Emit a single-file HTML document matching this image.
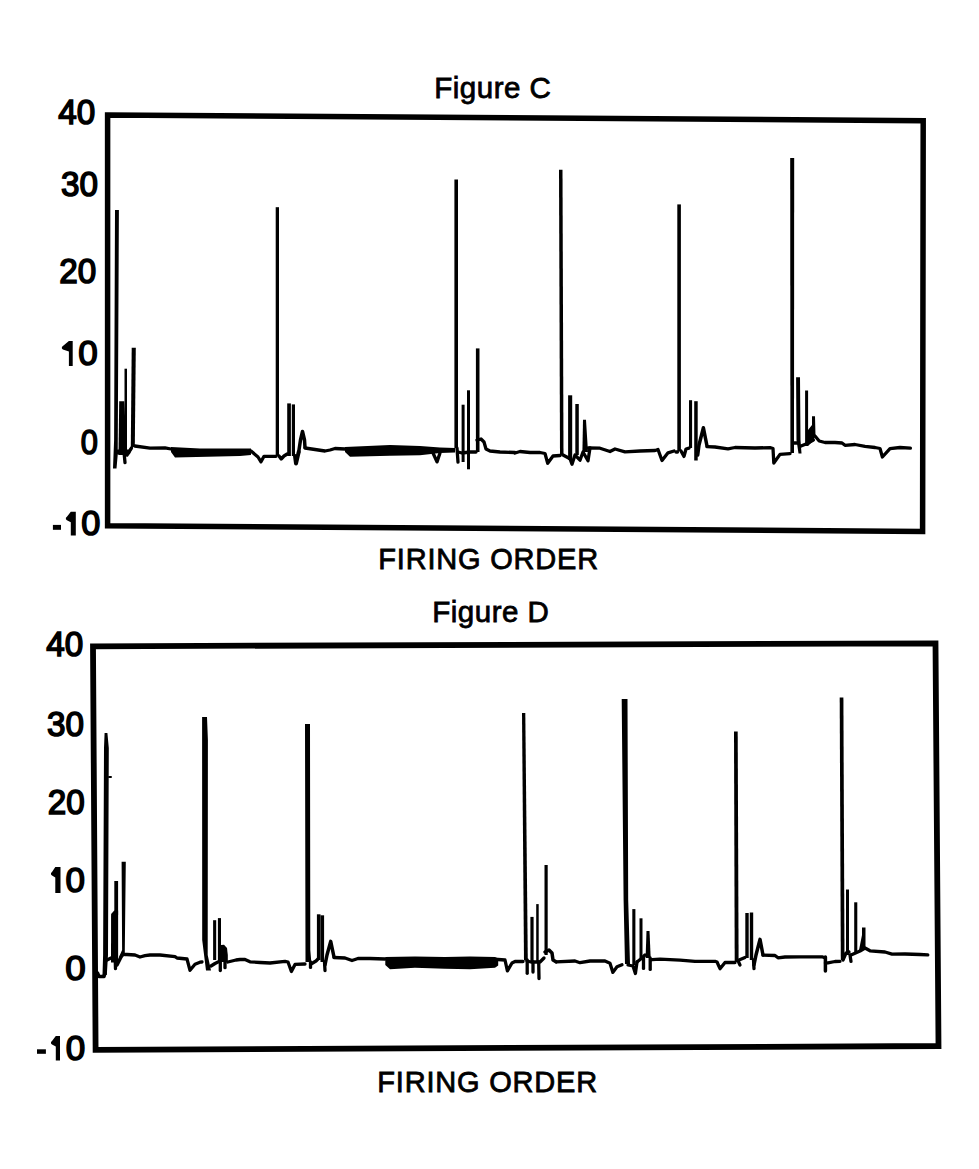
<!DOCTYPE html>
<html><head><meta charset="utf-8"><style>html,body{margin:0;padding:0;background:#fff;overflow:hidden}svg{display:block}</style></head>
<body><svg width="979" height="1169" viewBox="0 0 979 1169">
<rect width="979" height="1169" fill="#fff"/>
<path d="M107.6,115.1 L923.2,120.7 L922.6,531.4 L107.6,525.7 Z" fill="none" stroke="#000" stroke-width="5.5" stroke-linejoin="miter"/>
<path d="M93,646.3 L935.5,643.3 L938.5,1046 L95.6,1049.8 Z" fill="none" stroke="#000" stroke-width="5.8" stroke-linejoin="miter"/>
<text transform="translate(58.3,123.5) scale(0.95,1)" font-family="'Liberation Sans', sans-serif" font-size="35" stroke="#000" stroke-width="1.6">40</text>
<text transform="translate(61.0,195.7) scale(0.95,1)" font-family="'Liberation Sans', sans-serif" font-size="35" stroke="#000" stroke-width="1.6">30</text>
<text transform="translate(59.3,282.7) scale(0.95,1)" font-family="'Liberation Sans', sans-serif" font-size="35" stroke="#000" stroke-width="1.6">20</text>
<text transform="translate(80.7,453.5) scale(0.88,1)" font-family="'Liberation Sans', sans-serif" font-size="35" stroke="#000" stroke-width="1.6">0</text>
<text transform="translate(46.3,655.7) scale(0.95,1)" font-family="'Liberation Sans', sans-serif" font-size="35" stroke="#000" stroke-width="1.6">40</text>
<text transform="translate(47.1,735.7) scale(0.95,1)" font-family="'Liberation Sans', sans-serif" font-size="35" stroke="#000" stroke-width="1.6">30</text>
<text transform="translate(47.7,814.1) scale(0.95,1)" font-family="'Liberation Sans', sans-serif" font-size="35" stroke="#000" stroke-width="1.6">20</text>
<text transform="translate(65.2,980.0) scale(1.05,1)" font-family="'Liberation Sans', sans-serif" font-size="35" stroke="#000" stroke-width="1.6">0</text>
<polygon points="68.9,340.9 72.7,340.9 72.7,366.0 68.9,366.0 68.9,351.4 62.9,349.4 61.9,348.4 61.9,346.9 62.9,345.9" fill="#000"/>
<text transform="translate(78.3,365.0) scale(1.0,1)" font-family="'Liberation Sans', sans-serif" font-size="35" stroke="#000" stroke-width="1.6">0</text>
<rect x="52.9" y="524.9" width="8.1" height="4.9" fill="#000"/>
<polygon points="70.8,511.8 75.8,511.8 75.8,535.5 70.8,535.5 70.8,522.3 66.9,520.3 65.9,519.3 65.9,517.8 66.9,516.8" fill="#000"/>
<text transform="translate(81.2,534.5) scale(0.98,1)" font-family="'Liberation Sans', sans-serif" font-size="35" stroke="#000" stroke-width="1.6">0</text>
<polygon points="55.3,866.9 60.5,866.9 60.5,892.9 55.3,892.9 55.3,877.4 52.0,875.4 51.0,874.4 51.0,872.9 52.0,871.9" fill="#000"/>
<text transform="translate(65.4,891.9) scale(1.0,1)" font-family="'Liberation Sans', sans-serif" font-size="35" stroke="#000" stroke-width="1.6">0</text>
<rect x="37" y="1049.3" width="8.9" height="4.5" fill="#000"/>
<polygon points="55.8,1036.0 60.0,1036.0 60.0,1060.6 55.8,1060.6 55.8,1046.5 52.0,1044.5 51.0,1043.5 51.0,1042.0 52.0,1041.0" fill="#000"/>
<text transform="translate(65.7,1059.6) scale(1.0,1)" font-family="'Liberation Sans', sans-serif" font-size="35" stroke="#000" stroke-width="1.6">0</text>
<text x="434.3" y="97.5" font-family="'Liberation Sans', sans-serif" font-size="29.5" letter-spacing="0.5" stroke="#000" stroke-width="0.8">Figure C</text>
<text x="432.3" y="622.2" font-family="'Liberation Sans', sans-serif" font-size="29.5" letter-spacing="0.5" stroke="#000" stroke-width="0.8">Figure D</text>
<text x="378.3" y="569.4" font-family="'Liberation Sans', sans-serif" font-size="29" letter-spacing="0.8" stroke="#000" stroke-width="0.8">FIRING ORDER</text>
<text x="377.3" y="1092.2" font-family="'Liberation Sans', sans-serif" font-size="29" letter-spacing="0.8" stroke="#000" stroke-width="0.8">FIRING ORDER</text>
<polygon points="115.0,210.0 118.9,210.0 117.7,455.0 116.5,468.5 113.0,468.5 114.1,440.0" fill="#000"/>
<polygon points="119.2,401.3 124.3,401.3 126.8,455.0 118.5,455.0" fill="#000"/>
<polygon points="124.5,368.7 127.0,368.7 127.0,450.0 124.5,450.0" fill="#000"/>
<polyline points="118.0,452.0 128.0,452.0" fill="none" stroke="#000" stroke-width="5" stroke-linejoin="round" stroke-linecap="round"/>
<polyline points="124.0,452.0 125.0,462.7" fill="none" stroke="#000" stroke-width="3.3" stroke-linejoin="round" stroke-linecap="round"/>
<polyline points="127.0,455.0 131.5,448.0" fill="none" stroke="#000" stroke-width="3.3" stroke-linejoin="round" stroke-linecap="round"/>
<polygon points="131.7,347.8 135.8,347.8 134.8,447.0 130.8,447.0" fill="#000"/>
<polyline points="134.8,446.0 150.0,448.2 165.0,447.8 171.0,449.0" fill="none" stroke="#000" stroke-width="3.3" stroke-linejoin="round" stroke-linecap="round"/>
<polygon points="171.0,447.0 200.0,448.5 251.0,448.5 251.0,455.0 240.0,456.0 175.0,457.5 171.0,452.0" fill="#000"/>
<polyline points="251.0,451.0 258.0,457.0 261.0,461.8 264.0,456.3 276.0,456.3" fill="none" stroke="#000" stroke-width="3.3" stroke-linejoin="round" stroke-linecap="round"/>
<polygon points="275.7,207.2 279.0,207.2 279.0,456.0 275.7,456.0" fill="#000"/>
<polyline points="279.0,456.0 281.2,459.0 284.0,456.0 287.2,454.0" fill="none" stroke="#000" stroke-width="3.3" stroke-linejoin="round" stroke-linecap="round"/>
<polygon points="287.2,403.4 290.9,403.4 290.9,456.0 287.2,456.0" fill="#000"/>
<polygon points="291.8,404.4 295.0,404.4 295.0,456.0 291.8,456.0" fill="#000"/>
<polyline points="295.0,456.0 296.0,463.6 298.7,452.0" fill="none" stroke="#000" stroke-width="4" stroke-linejoin="round" stroke-linecap="round"/>
<polyline points="298.7,452.0 300.5,440.0 302.5,431.5 304.5,440.0 305.0,447.5" fill="none" stroke="#000" stroke-width="3.5" stroke-linejoin="round" stroke-linecap="round"/>
<polyline points="305.0,448.0 315.0,449.5 325.0,451.0 330.0,450.0 335.0,448.5 345.0,449.0" fill="none" stroke="#000" stroke-width="3.3" stroke-linejoin="round" stroke-linecap="round"/>
<polygon points="345.0,447.0 390.0,445.0 420.0,446.0 440.0,447.5 455.0,448.0 455.0,452.5 440.0,453.0 420.0,455.2 390.0,455.8 350.0,456.7 345.0,452.0" fill="#000"/>
<polyline points="433.0,453.0 437.0,461.9 440.0,453.0" fill="none" stroke="#000" stroke-width="3.3" stroke-linejoin="round" stroke-linecap="round"/>
<polygon points="454.4,179.4 458.0,179.4 458.0,448.0 454.4,448.0" fill="#000"/>
<polyline points="457.0,448.0 458.0,462.2" fill="none" stroke="#000" stroke-width="3.3" stroke-linejoin="round" stroke-linecap="round"/>
<polygon points="461.6,404.7 464.6,404.7 464.6,462.0 461.6,462.0" fill="#000"/>
<polygon points="467.0,390.3 470.0,390.3 470.0,469.3 467.0,469.3" fill="#000"/>
<polygon points="475.9,348.4 479.5,348.4 479.5,452.0 475.9,452.0" fill="#000"/>
<polyline points="458.0,452.0 462.0,453.0 470.0,452.0 476.0,452.0" fill="none" stroke="#000" stroke-width="3.3" stroke-linejoin="round" stroke-linecap="round"/>
<polyline points="477.0,440.0 481.0,439.0 484.0,442.0 486.0,449.0 490.0,451.0 500.0,452.0 515.0,452.5" fill="none" stroke="#000" stroke-width="3.3" stroke-linejoin="round" stroke-linecap="round"/>
<polyline points="515.0,453.0 520.0,451.5 530.0,452.5 540.0,452.5 545.0,453.5 547.7,463.2 553.0,456.0 560.0,455.5" fill="none" stroke="#000" stroke-width="3.3" stroke-linejoin="round" stroke-linecap="round"/>
<polygon points="559.0,169.8 562.5,169.8 563.5,455.6 560.0,455.6" fill="#000"/>
<polyline points="563.0,455.0 570.0,458.7 572.0,464.3 575.0,455.0 580.0,460.2 583.0,452.0 588.0,460.7 590.0,448.0" fill="none" stroke="#000" stroke-width="3.3" stroke-linejoin="round" stroke-linecap="round"/>
<polygon points="568.1,395.3 572.2,395.3 572.2,460.0 568.1,460.0" fill="#000"/>
<polygon points="575.3,404.0 578.8,404.0 578.8,455.0 575.3,455.0" fill="#000"/>
<polygon points="583.0,419.8 586.0,419.8 588.0,452.0 582.4,452.0" fill="#000"/>
<polyline points="588.0,448.0 600.0,448.2 610.0,451.5 615.0,449.0 625.0,451.8 640.0,451.0 655.0,450.5 658.0,449.5 662.0,460.5 668.0,452.8 674.0,451.0" fill="none" stroke="#000" stroke-width="3.3" stroke-linejoin="round" stroke-linecap="round"/>
<polyline points="676.0,452.0 677.5,452.0" fill="none" stroke="#000" stroke-width="3.3" stroke-linejoin="round" stroke-linecap="round"/>
<polygon points="677.3,204.4 680.9,204.4 680.9,451.3 677.3,451.3" fill="#000"/>
<polyline points="681.0,451.0 684.0,456.4 686.0,449.0 689.0,448.2" fill="none" stroke="#000" stroke-width="3.3" stroke-linejoin="round" stroke-linecap="round"/>
<polygon points="689.0,400.2 692.1,400.2 692.1,448.0 689.0,448.0" fill="#000"/>
<polygon points="694.2,401.2 697.7,401.2 697.7,460.5 694.2,460.5" fill="#000"/>
<polyline points="697.7,455.0 699.0,445.0 703.4,427.8 707.0,446.0" fill="none" stroke="#000" stroke-width="3.5" stroke-linejoin="round" stroke-linecap="round"/>
<polyline points="707.0,446.7 715.0,447.0 728.0,448.8 735.0,447.5 755.0,448.0 770.0,447.6 773.0,448.5 773.8,463.0 780.0,454.4 790.0,453.7" fill="none" stroke="#000" stroke-width="3.3" stroke-linejoin="round" stroke-linecap="round"/>
<polygon points="790.2,158.0 794.2,158.0 794.0,453.0 790.4,453.0" fill="#000"/>
<polyline points="793.6,443.0 797.8,443.0" fill="none" stroke="#000" stroke-width="3.3" stroke-linejoin="round" stroke-linecap="round"/>
<polygon points="796.1,377.3 800.0,377.3 800.5,440.0 801.5,453.5 798.5,453.5 796.5,440.0" fill="#000"/>
<polyline points="801.0,446.0 806.0,444.0 813.3,440.0" fill="none" stroke="#000" stroke-width="3.5" stroke-linejoin="round" stroke-linecap="round"/>
<polygon points="805.1,390.5 808.1,390.5 808.1,446.0 805.1,446.0" fill="#000"/>
<polygon points="808.0,430.0 812.0,425.0 812.0,416.2 815.0,416.2 815.5,436.0 813.0,441.0 808.0,446.0" fill="#000"/>
<polyline points="815.0,436.0 819.2,441.0 825.0,442.5 835.0,442.5 842.0,443.0 845.0,445.3 855.0,444.5 865.0,446.4 875.0,447.5 880.0,448.5 882.4,457.0 890.0,448.7 900.0,447.5 910.4,448.1" fill="none" stroke="#000" stroke-width="3.3" stroke-linejoin="round" stroke-linecap="round"/>
<polyline points="97.5,973.0 99.0,976.5 104.0,976.5 105.0,973.0" fill="none" stroke="#000" stroke-width="3.5" stroke-linejoin="round" stroke-linecap="round"/>
<polygon points="104.6,733.0 107.4,733.0 108.8,748.0 108.0,955.0 106.8,975.0 102.5,975.0 103.1,955.0 104.0,748.0" fill="#000"/>
<polyline points="109.0,777.0 111.0,777.0" fill="none" stroke="#000" stroke-width="2" stroke-linejoin="round" stroke-linecap="round"/>
<polyline points="107.0,960.0 111.0,958.0" fill="none" stroke="#000" stroke-width="3.3" stroke-linejoin="round" stroke-linecap="round"/>
<polygon points="111.1,914.0 114.3,910.5 118.1,910.5 118.1,962.5 111.0,962.5" fill="#000"/>
<polygon points="114.3,881.0 118.1,881.0 118.1,915.0 114.3,915.0" fill="#000"/>
<polyline points="115.3,962.0 115.5,968.6" fill="none" stroke="#000" stroke-width="3.3" stroke-linejoin="round" stroke-linecap="round"/>
<polyline points="117.0,965.0 121.0,957.0 123.0,954.0" fill="none" stroke="#000" stroke-width="3.5" stroke-linejoin="round" stroke-linecap="round"/>
<polygon points="121.6,861.8 125.8,861.8 124.8,950.0 124.8,956.0 119.0,957.0 122.1,950.0" fill="#000"/>
<polyline points="124.8,954.5 127.0,954.5 135.0,955.0 140.0,957.0 145.0,955.7 150.0,955.0 160.0,955.0 175.0,956.6 177.0,958.0 187.0,959.0 190.0,970.3 195.0,964.2 200.0,962.2 202.0,962.0" fill="none" stroke="#000" stroke-width="3.3" stroke-linejoin="round" stroke-linecap="round"/>
<polygon points="202.1,717.0 207.0,717.0 207.9,740.0 207.7,955.0 211.0,970.5 206.0,970.5 202.2,940.0" fill="#000"/>
<polyline points="211.0,966.0 215.0,963.5 218.0,962.0" fill="none" stroke="#000" stroke-width="3.3" stroke-linejoin="round" stroke-linecap="round"/>
<polygon points="213.1,920.2 216.2,920.2 216.2,960.0 213.1,960.0" fill="#000"/>
<polygon points="217.9,918.1 221.0,918.1 221.0,962.0 217.9,962.0" fill="#000"/>
<polyline points="220.3,960.0 220.3,970.5" fill="none" stroke="#000" stroke-width="3.3" stroke-linejoin="round" stroke-linecap="round"/>
<polygon points="218.3,962.0 218.5,950.0 221.0,945.0 224.0,944.8 227.0,948.0 227.8,955.0 227.8,962.0" fill="#000"/>
<polyline points="225.0,962.0 225.0,967.7" fill="none" stroke="#000" stroke-width="3.3" stroke-linejoin="round" stroke-linecap="round"/>
<polyline points="227.8,962.0 232.0,961.0 236.0,960.0 240.0,959.5 245.0,959.5 250.0,961.8 260.0,962.5 270.0,963.0 285.0,961.3 288.0,962.0 291.4,971.5 295.0,964.4 305.0,964.0" fill="none" stroke="#000" stroke-width="3.3" stroke-linejoin="round" stroke-linecap="round"/>
<polygon points="305.0,723.9 310.0,723.9 310.3,950.0 311.3,962.0 305.5,962.0" fill="#000"/>
<polyline points="310.5,962.0 310.5,967.4" fill="none" stroke="#000" stroke-width="3.3" stroke-linejoin="round" stroke-linecap="round"/>
<polyline points="311.0,964.0 316.0,961.0 318.0,959.0" fill="none" stroke="#000" stroke-width="3.3" stroke-linejoin="round" stroke-linecap="round"/>
<polygon points="316.9,914.3 320.5,914.3 320.5,960.0 316.9,960.0" fill="#000"/>
<polygon points="320.5,915.3 324.1,915.3 324.1,962.0 320.5,962.0" fill="#000"/>
<polyline points="324.5,962.0 325.0,970.5" fill="none" stroke="#000" stroke-width="3.3" stroke-linejoin="round" stroke-linecap="round"/>
<polyline points="325.0,965.0 327.0,955.0 330.7,941.4 334.0,957.0" fill="none" stroke="#000" stroke-width="3.5" stroke-linejoin="round" stroke-linecap="round"/>
<polyline points="334.0,957.5 345.0,958.0 352.0,960.5 358.0,958.5 370.0,958.5 385.0,959.0" fill="none" stroke="#000" stroke-width="3.3" stroke-linejoin="round" stroke-linecap="round"/>
<polygon points="385.3,957.0 415.0,956.5 445.0,957.0 470.0,956.5 495.0,957.0 498.2,958.0 498.2,965.6 495.0,967.7 470.0,969.2 445.0,968.7 415.0,967.7 390.0,969.2 385.3,965.0" fill="#000"/>
<polyline points="498.0,959.5 505.0,960.0 507.4,970.8 512.0,963.0 515.0,961.5 523.0,961.5" fill="none" stroke="#000" stroke-width="3.3" stroke-linejoin="round" stroke-linecap="round"/>
<polygon points="522.0,712.9 525.3,712.9 527.8,960.5 524.0,960.5" fill="#000"/>
<polyline points="527.2,960.0 527.2,973.3" fill="none" stroke="#000" stroke-width="3.3" stroke-linejoin="round" stroke-linecap="round"/>
<polygon points="530.4,916.9 533.6,916.9 533.6,962.0 530.4,962.0" fill="#000"/>
<polyline points="533.0,962.0 533.0,972.0" fill="none" stroke="#000" stroke-width="3.3" stroke-linejoin="round" stroke-linecap="round"/>
<polygon points="536.2,904.1 538.7,904.1 538.7,962.0 536.2,962.0" fill="#000"/>
<polyline points="538.7,962.0 539.0,978.5" fill="none" stroke="#000" stroke-width="3.3" stroke-linejoin="round" stroke-linecap="round"/>
<polygon points="544.5,865.0 547.7,865.0 547.7,955.0 544.5,955.0" fill="#000"/>
<polyline points="527.0,961.0 531.0,962.0 536.0,962.0 540.0,962.0 544.0,958.0" fill="none" stroke="#000" stroke-width="3.3" stroke-linejoin="round" stroke-linecap="round"/>
<polyline points="545.0,952.0 549.0,950.0 552.0,953.0 553.0,960.0 556.0,961.8" fill="none" stroke="#000" stroke-width="3.5" stroke-linejoin="round" stroke-linecap="round"/>
<polyline points="556.0,961.8 575.0,961.0 580.0,962.7 590.0,961.0 605.0,961.0 610.0,963.2 612.9,972.4 617.0,966.8 622.0,964.8" fill="none" stroke="#000" stroke-width="3.3" stroke-linejoin="round" stroke-linecap="round"/>
<polygon points="621.7,699.0 627.5,699.0 628.2,900.0 630.0,964.0 625.0,964.0 623.6,900.0" fill="#000"/>
<polyline points="628.0,965.0 633.0,966.0 635.4,973.5 637.0,962.0" fill="none" stroke="#000" stroke-width="3.3" stroke-linejoin="round" stroke-linecap="round"/>
<polygon points="632.3,909.1 635.4,909.1 635.4,965.0 632.3,965.0" fill="#000"/>
<polygon points="639.5,918.3 642.5,918.3 642.5,958.0 639.5,958.0" fill="#000"/>
<polygon points="646.5,931.1 649.5,931.1 650.7,958.0 645.6,958.0" fill="#000"/>
<polyline points="637.0,962.0 642.0,958.0 645.0,955.0" fill="none" stroke="#000" stroke-width="3.3" stroke-linejoin="round" stroke-linecap="round"/>
<polyline points="643.5,958.0 643.5,968.4" fill="none" stroke="#000" stroke-width="3.3" stroke-linejoin="round" stroke-linecap="round"/>
<polyline points="650.2,958.0 650.2,969.4" fill="none" stroke="#000" stroke-width="3.3" stroke-linejoin="round" stroke-linecap="round"/>
<polyline points="650.7,960.0 652.0,959.7 660.0,959.2 680.0,960.2 695.0,961.3 715.0,961.3 717.0,962.0 720.0,968.7 725.0,962.5 735.0,962.5" fill="none" stroke="#000" stroke-width="3.3" stroke-linejoin="round" stroke-linecap="round"/>
<polygon points="734.0,731.4 737.7,731.4 738.6,962.0 734.7,962.0" fill="#000"/>
<polyline points="738.6,962.0 740.0,965.0" fill="none" stroke="#000" stroke-width="3.3" stroke-linejoin="round" stroke-linecap="round"/>
<polyline points="739.0,960.0 745.0,957.5" fill="none" stroke="#000" stroke-width="3.3" stroke-linejoin="round" stroke-linecap="round"/>
<polygon points="745.3,913.0 748.7,913.0 748.7,958.0 745.3,958.0" fill="#000"/>
<polygon points="749.8,912.5 753.2,912.5 753.2,960.0 749.8,960.0" fill="#000"/>
<polyline points="753.5,960.0 754.0,968.7" fill="none" stroke="#000" stroke-width="3.3" stroke-linejoin="round" stroke-linecap="round"/>
<polyline points="754.0,965.0 756.0,955.0 760.0,939.4 763.0,955.0" fill="none" stroke="#000" stroke-width="3.5" stroke-linejoin="round" stroke-linecap="round"/>
<polyline points="763.0,955.2 775.0,955.5 778.0,957.8 785.0,957.0 800.0,956.8 822.0,956.8 825.4,958.0" fill="none" stroke="#000" stroke-width="3.3" stroke-linejoin="round" stroke-linecap="round"/>
<polyline points="825.4,957.0 825.4,971.1" fill="none" stroke="#000" stroke-width="3.5" stroke-linejoin="round" stroke-linecap="round"/>
<polyline points="825.4,963.0 828.0,962.9 835.0,961.5 840.0,961.4" fill="none" stroke="#000" stroke-width="3.3" stroke-linejoin="round" stroke-linecap="round"/>
<polygon points="839.7,697.4 843.4,697.4 844.5,960.0 840.8,960.0" fill="#000"/>
<polyline points="843.0,960.0 846.0,953.0 849.0,952.0" fill="none" stroke="#000" stroke-width="3.3" stroke-linejoin="round" stroke-linecap="round"/>
<polygon points="846.0,889.5 849.0,889.5 849.0,955.0 846.0,955.0" fill="#000"/>
<polyline points="850.0,955.0 851.0,961.4" fill="none" stroke="#000" stroke-width="3.3" stroke-linejoin="round" stroke-linecap="round"/>
<polygon points="854.2,902.3 857.3,902.3 857.3,952.0 854.2,952.0" fill="#000"/>
<polygon points="859.0,950.0 862.0,935.0 862.0,927.5 865.5,927.5 865.5,950.0" fill="#000"/>
<polyline points="851.0,955.0 860.0,951.0 865.0,948.0 870.0,950.8 885.0,952.0 892.0,954.1 905.0,954.0 920.0,954.5 927.8,954.9" fill="none" stroke="#000" stroke-width="3.3" stroke-linejoin="round" stroke-linecap="round"/>
</svg></body></html>
